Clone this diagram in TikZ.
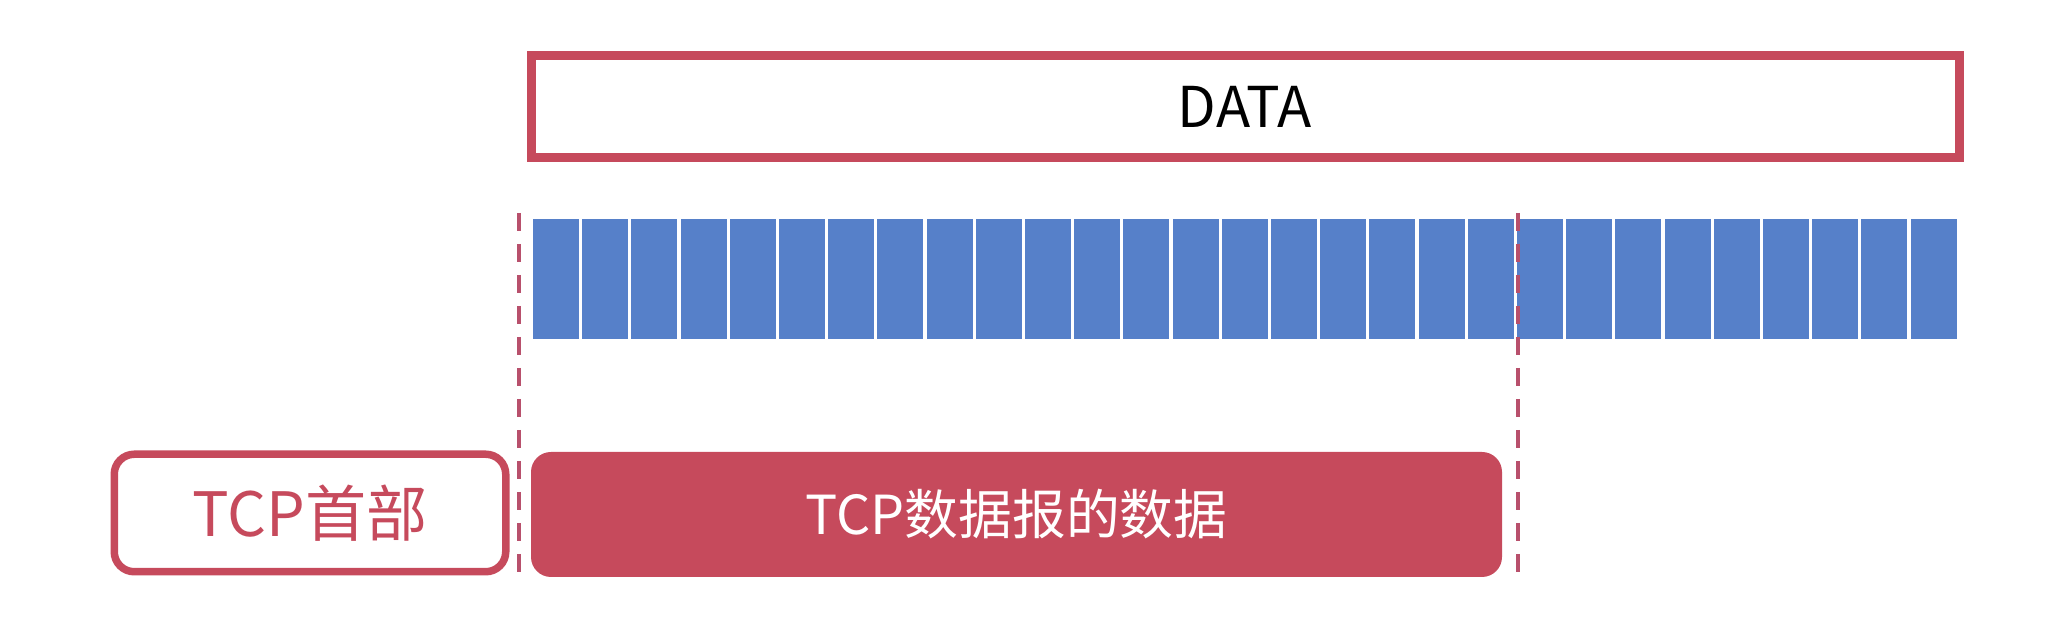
\documentclass[tikz,border=0pt]{standalone}
\usepackage{fontspec}
\newfontfamily\cjk{Noto Sans CJK SC}
\definecolor{tcpred}{HTML}{C64A5C}
\definecolor{cellblue}{HTML}{5680C9}
\definecolor{cutred}{HTML}{B8506C}
\begin{document}
\begin{tikzpicture}[
        redframe/.style={draw=tcpred, line width=0.09cm, inner sep=0pt},
        cell/.style={fill=cellblue, minimum width=0.46cm, minimum height=1.2cm, inner sep=0pt},
        cutline/.style={draw=cutred, line width=0.04cm, dash pattern=on 0.18cm off 0.13cm},
        segbox/.style={rounded corners=0.2cm, inner sep=0pt, minimum height=1.18cm}
    ]
        \useasboundingbox (0,0) rectangle (20.5,6.3);

        % Application data
        \node[redframe, minimum width=14.28cm, minimum height=1.02cm,
              font=\cjk\fontsize{16pt}{19pt}\selectfont, text=black]
              (data) at (12.45,5.235) {DATA};

        % Byte stream
        \foreach \i in {0,...,28}
            \node[cell] (c\i) at ({5.56+0.492*\i},3.51) {};

        % Cut lines for one segment
        \coordinate (cutAtop) at (5.19,4.17);
        \coordinate (cutAbot) at (5.19,0.57);
        \coordinate (cutBtop) at (15.18,4.17);
        \coordinate (cutBbot) at (15.18,0.57);
        \draw[cutline] (cutAtop) -- (cutAbot);
        \draw[cutline] (cutBtop) -- (cutBbot);

        % TCP segment
        \node[segbox, draw=tcpred, line width=0.075cm, minimum width=3.915cm, minimum height=1.175cm,
              font=\cjk\fontsize{17.4pt}{20pt}\selectfont, text=tcpred]
              (hdr) at (3.10,1.17) {TCP首部};
        \node[segbox, fill=tcpred, minimum width=9.71cm, minimum height=1.25cm,
              font=\cjk\fontsize{15.3pt}{18pt}\selectfont, text=white]
              (payload) at (10.165,1.155) {TCP数据报的数据};
    \end{tikzpicture}
\end{document}
